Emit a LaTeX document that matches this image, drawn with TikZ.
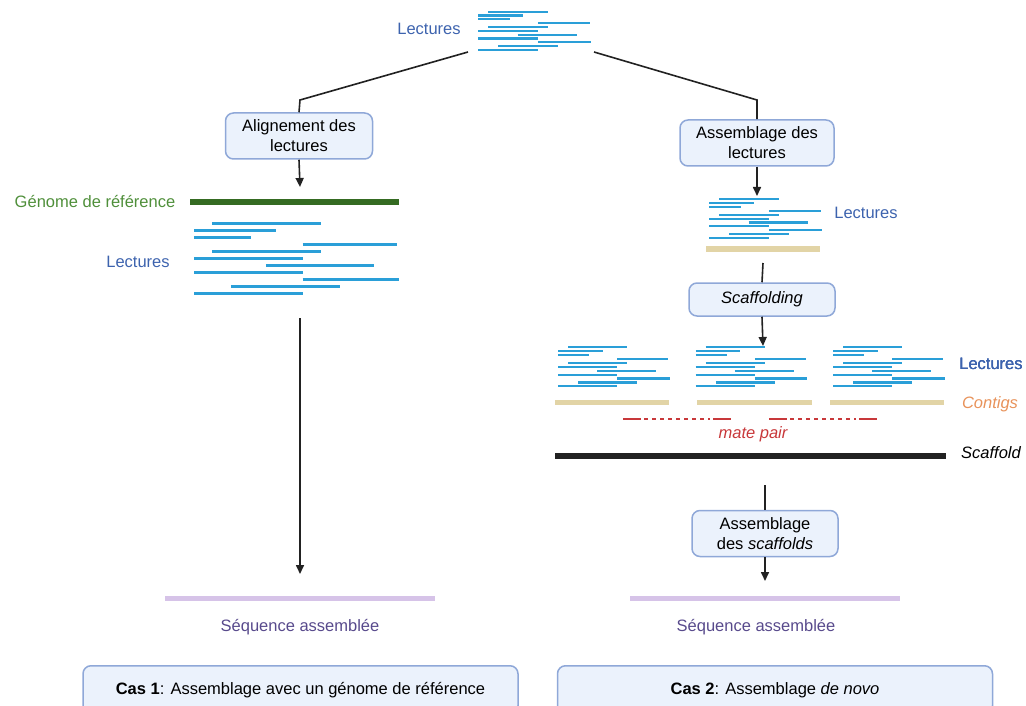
\documentclass[tikz,border=0pt]{standalone}
\usepackage{fontspec}
\setmainfont{Liberation Sans}
\usetikzlibrary{arrows.meta}
\definecolor{boxfill}{HTML}{EBF2FC}
\definecolor{boxline}{HTML}{8FA8D8}
\definecolor{readblue}{HTML}{2A9FD8}
\definecolor{labelblue}{HTML}{3D63AE}
\definecolor{genome}{HTML}{356B22}
\definecolor{genomelab}{HTML}{4F8F3A}
\definecolor{contig}{HTML}{E2D4A6}
\definecolor{contiglab}{HTML}{E8925A}
\definecolor{mate}{HTML}{C8383A}
\definecolor{seqbar}{HTML}{D6C3E8}
\definecolor{seqlab}{HTML}{584A8C}
\definecolor{trait}{HTML}{222222}

\tikzset{
  etape/.style={draw=boxline, fill=boxfill, rounded corners=8pt, line width=1.5pt,
    align=center, inner sep=3pt, minimum height=46pt, font=\fontsize{16.5}{20}\selectfont},
  cas/.style={etape, minimum width=435pt, minimum height=48pt, anchor=north},
  lecture/.style={readblue, line width=2.2pt},
  fleche/.style={-{Triangle[length=9pt,width=8pt]}, line width=1.6pt, trait},
  lien/.style={line width=1.6pt, trait},
  etiq/.style={font=\fontsize{16.5}{20}\selectfont},
}

% #1 x gauche, #2 y premier trait, #3 largeur, #4 ecart, #5 epaisseur
\newcommand{\paquet}[5]{%
  \foreach \a/\b [count=\i from 0] in {0.09/0.62,0/0.4,0/0.28,0.53/0.99,0.09/0.62,
      0/0.53,0.35/0.88,0/0.53,0.53/1,0.18/0.71,0/0.53}
    \draw[lecture, line width=#5] ({#1+\a*#3},{#2+\i*#4}) -- ({#1+\b*#3},{#2+\i*#4});
}

\begin{document}
\begin{tikzpicture}[x=1pt, y=-1pt]
\useasboundingbox (0,0) rectangle (1026,706);

\paquet{478}{11.7}{113}{3.83}{2.2pt}
\node[etiq, labelblue] (lectH) at (429,29) {Lectures};
\coordinate (depG) at (468,52);
\coordinate (depD) at (594,52);
\coordinate (coudeG) at (300,100);
\coordinate (coudeD) at (757,100);

\node[etape, minimum width=147pt] (alig) at (299,136) {Alignement des\\lectures};
\node[etape, minimum width=154pt] (assL) at (757,143) {Assemblage des\\lectures};
\draw[lien] (depG) -- (coudeG) -- (alig.north);
\draw[lien] (depD) -- (coudeD) -- (assL.north);

\begin{scope}
\coordinate (genome) at (300,187);
\draw[fleche] (alig.south) -- (genome);
\draw[genome, line width=6pt] (190,201.7) -- (399,201.7);
\node[etiq, genomelab] (genLab) at (95,202) {Génome de référence};
\paquet{194}{223}{205}{7}{3pt}
\node[etiq, labelblue] (lectG) at (138,262) {Lectures};
\coordinate (finLectG) at (300,318);
\coordinate (seqG) at (300,574);
\draw[fleche] (finLectG) -- (seqG);
\draw[seqbar, line width=5pt] (165,598) -- (435,598);
\node[etiq, seqlab] (seqGLab) at (300,627) {Séquence assemblée};
\end{scope}

\begin{scope}
\coordinate (lectD) at (757,196);
\draw[fleche] (assL.south) -- (lectD);
\paquet{709}{199.3}{113}{3.87}{2.2pt}
\node[etiq, labelblue] (lectDLab) at (866,213) {Lectures};
\draw[contig, line width=5.5pt] (706,249) -- (820,249);
\coordinate (finContig) at (763,263);
\node[etape, minimum width=146pt, minimum height=33pt, font=\fontsize{16.5}{20}\selectfont\itshape] (scaf) at (762,299.5) {Scaffolding};
\draw[lien] (finContig) -- (scaf.north);
\coordinate (lectTrois) at (763,346);
\draw[fleche] (scaf.south) -- (lectTrois);
\foreach \x in {558,695.7,833}
  \paquet{\x}{347.3}{111.5}{3.9}{2.2pt}
\node[etiq, labelblue] (lectTroisLab) at (991,364) {Lectures};
\foreach \x/\y in {555/669,697/812,830/944}
  \draw[contig, line width=5pt] (\x,402.3) -- (\y,402.3);
\node[etiq, contiglab, font=\fontsize{16.5}{20}\selectfont\itshape] (contigLab) at (990,404) {Contigs};
\foreach \x/\y in {623/731,769/877}{
  \draw[mate, line width=2.2pt] (\x,419.3) -- (\x+18,419.3);
  \draw[mate, line width=2.2pt, dash pattern=on 4pt off 4pt] (\x+21,419.3) -- (\y-21,419.3);
  \draw[mate, line width=2.2pt] (\y-18,419.3) -- (\y,419.3);
}
\node[etiq, mate, font=\fontsize{16.5}{20}\selectfont\itshape] (mateLab) at (753,434) {mate pair};
\draw[trait, line width=6pt] (555,456) -- (946,456);
\node[etiq, font=\fontsize{16.5}{20}\selectfont\itshape] (scafLab) at (991,453) {Scaffold};
\coordinate (finScaf) at (765,485);
\node[etape, minimum width=146pt] (assS) at (765,533.5) {Assemblage\\des \textit{scaffolds}};
\draw[lien] (finScaf) -- (assS.north);
\coordinate (seqD) at (765,581);
\draw[fleche] (assS.south) -- (seqD);
\draw[seqbar, line width=5pt] (630,598) -- (900,598);
\node[etiq, seqlab] (seqDLab) at (756,627) {Séquence assemblée};
\end{scope}

\node[cas] (cas1) at (300.5,665) {\textbf{Cas 1}: Assemblage avec un génome de référence};
\node[cas] (cas2) at (775,665) {\textbf{Cas 2}: Assemblage \textit{de novo}};
\end{tikzpicture}
\end{document}
